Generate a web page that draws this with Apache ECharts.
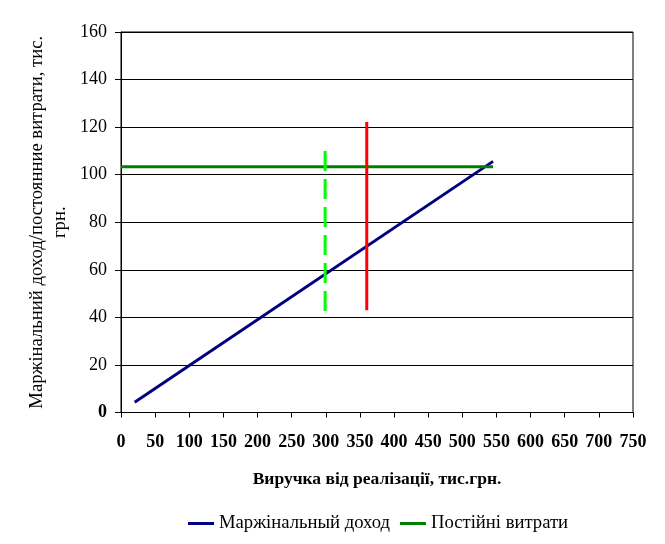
<!DOCTYPE html>
<html>
<head>
<meta charset="utf-8">
<script src="https://cdn.jsdelivr.net/npm/echarts@6/dist/echarts.min.js"></script>
<style>
html,body{margin:0;padding:0;background:#fff;}
#chart{width:665px;height:544px;}
</style>
</head>
<body>
<div id="chart"></div>
<script>
// Data
const xTickMin = 0, xTickMax = 750, xTickStep = 50;
const yTickMin = 0, yTickMax = 160, yTickStep = 20;

const marginRevenue = [20, 545];
const marginIncome = [4.3, 105.6];

const fixedRevenue = [0, 545];
const fixedCosts = [103.3, 103.3];

const redLineX = [360, 360];
const redLineY = [43, 122.2];

const dashLineX = [299, 299];
const dashLineY = [42.7, 110.5];

const seriesNames = ['Маржінальный доход', 'Постійні витрати'];
const xTitle = 'Виручка від реалізації, тис.грн.';
const yTitle = 'Маржінальний доход/постоянние витрати, тис.\nгрн.';

const pairs = (xs, ys) => xs.map((x, i) => [x, ys[i]]);
const FONT = '"Liberation Serif", "Times New Roman", serif';
const FS = 18.67;

const chart = echarts.init(document.getElementById('chart'), null, {renderer: 'canvas'});
chart.setOption({
  animation: false,
  backgroundColor: '#fff',
  textStyle: {fontFamily: FONT, color: '#000'},
  grid: {left: 121, right: 32, top: 32, bottom: 131.5, show: true, borderColor: '#000', borderWidth: 1, backgroundColor: 'transparent'},
  legend: {
    bottom: 6,
    left: 183,
    data: seriesNames,
    icon: 'rect',
    itemWidth: 26,
    itemHeight: 3,
    itemGap: 10,
    textStyle: {fontFamily: FONT, fontSize: FS, color: '#000'}
  },
  xAxis: {
    type: 'value',
    min: xTickMin, max: xTickMax, interval: xTickStep,
    name: xTitle,
    nameLocation: 'middle',
    nameGap: 58,
    nameTextStyle: {fontFamily: FONT, fontSize: 17.5, fontWeight: 'bold', color: '#000'},
    axisLine: {show: true, lineStyle: {color: '#000', width: 1}},
    axisTick: {show: true, length: 5, lineStyle: {color: '#000'}},
    splitLine: {show: false},
    axisLabel: {fontFamily: FONT, fontSize: 18, fontWeight: 'bold', color: '#000', margin: 21, hideOverlap: false, showMinLabel: true, showMaxLabel: true},
  },
  yAxis: {
    type: 'value',
    min: yTickMin, max: yTickMax, interval: yTickStep,
    name: yTitle,
    nameLocation: 'middle',
    nameGap: 49,
    nameMoveOverlap: false,
    nameRotate: 90,
    nameTextStyle: {fontFamily: FONT, fontSize: FS, color: '#000', lineHeight: 23, align: 'center'},
    axisLine: {show: true, lineStyle: {color: '#000', width: 1}},
    axisTick: {show: true, length: 6, lineStyle: {color: '#000'}},
    splitLine: {show: true, lineStyle: {color: '#000', width: 1}},
    axisLabel: {
      fontFamily: FONT, fontSize: 18, color: '#000', margin: 14,
      formatter: v => v === 0 ? '{b|0}' : String(v),
      rich: {b: {fontFamily: FONT, fontSize: 18, fontWeight: 'bold', color: '#000'}}
    }
  },
  series: [
    {
      name: seriesNames[0], type: 'line', data: pairs(marginRevenue, marginIncome),
      showSymbol: false, symbol: 'none', color: '#000080',
      lineStyle: {color: '#000080', width: 3}
    },
    {
      name: seriesNames[1], type: 'line', data: pairs(fixedRevenue, fixedCosts),
      showSymbol: false, symbol: 'none', color: '#008000',
      lineStyle: {color: '#008000', width: 3}
    },
    {
      name: 'red', type: 'line', data: pairs(redLineX, redLineY),
      showSymbol: false, symbol: 'none', color: '#ff0000',
      lineStyle: {color: '#ff0000', width: 3}
    },
    {
      name: 'dash', type: 'line', data: pairs(dashLineX, dashLineY),
      showSymbol: false, symbol: 'none', color: '#00ff00',
      lineStyle: {color: '#00ff00', width: 3, type: [20, 8]}
    }
  ]
});
</script>
</body>
</html>
